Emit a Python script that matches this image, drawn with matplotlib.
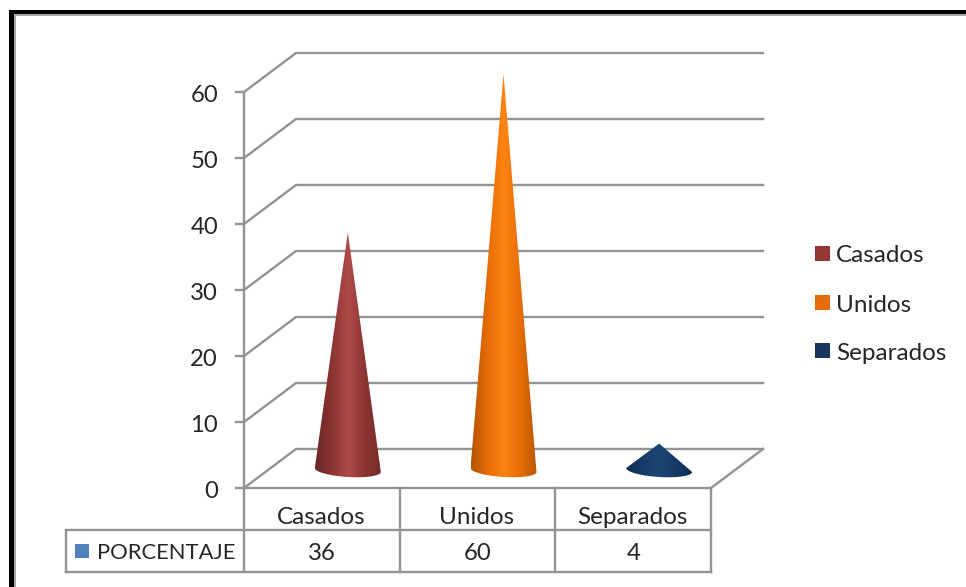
import matplotlib
matplotlib.use("Agg")
import matplotlib.pyplot as plt
import numpy as np
from matplotlib.colors import LinearSegmentedColormap
from matplotlib.patches import Rectangle
from matplotlib.path import Path
from matplotlib.patches import PathPatch

plt.rcParams['font.family'] = ['Lato', 'DejaVu Sans']

categories = ["Casados", "Unidos", "Separados"]
values = [36, 60, 4]
series_name = "PORCENTAJE"
y_ticks = [0, 10, 20, 30, 40, 50, 60]
cone_shades = [
    ["#6a2725", "#8a3432", "#b04c4a", "#8a3432", "#742b29"],
    ["#b55300", "#e56e08", "#ff8412", "#e56e08", "#bb5600"],
    ["#0f2d52", "#163a66", "#1d4674", "#163a66", "#0f2d52"],
]
legend_colors = ["#953735", "#e46c0a", "#17375e"]
key_color = "#4f81bd"

W, H = 966, 587
GRID = "#939393"
TEXT = "#262626"
FS = 17.5
FS_TICK = 17.2
FS_SERIES = 15.8

fig = plt.figure(figsize=(W / 100, H / 100), dpi=100, facecolor="white")

# Plot axes spans the front face of the 3-D box: categories across, values up.
left, right, bottom, top = 244, 711, 488, 92
ax = fig.add_axes([left / W, 1 - bottom / H, (right - left) / W, (bottom - top) / H])
ax.set_xlim(0, len(categories))
ax.set_ylim(0, 60)
ax.axis("off")

# Depth of the box expressed in data units.
px_x = (right - left) / len(categories)
px_y = (bottom - top) / 60
dx, dy = 52 / px_x, 39 / px_y
n = len(categories)

line = dict(color=GRID, lw=1.7, clip_on=False, solid_capstyle="projecting", zorder=1)

for t in y_ticks:
    ax.plot([0, dx, n + dx], [t, t + dy, t + dy], **line)
    ax.plot([-8 / px_x, 0], [t, t], **line)
    ax.text(-26 / px_x, t - 3 / px_y, str(t), ha="right", va="center", fontsize=FS_TICK, color=TEXT)
ax.plot([0, 0], [0, 60], **line)
ax.plot([n + dx, n, 0], [dy, 0, 0], **line)

# Data table hanging under the category axis.
row1, row2 = -42 / px_y, -84 / px_y
key_left = -178 / px_x
for i in range(n + 1):
    ax.plot([i, i], [0, row2], **line)
ax.plot([key_left, n], [row1, row1], **line)
ax.plot([key_left, n], [row2, row2], **line)
ax.plot([key_left, key_left], [row1, row2], **line)
for i, (name, v) in enumerate(zip(categories, values)):
    ax.text(i + 0.5 - 1 / px_x, row1 / 2 - 8 / px_y, name, ha="center", va="center",
            fontsize=FS, color=TEXT)
    ax.text(i + 0.5, (row1 + row2) / 2 - 2 / px_y, str(v), ha="center", va="center",
            fontsize=FS_TICK, color=TEXT)
ax.add_patch(Rectangle((-169 / px_x, (row1 + row2) / 2 - 7 / px_y), 14 / px_x, 14 / px_y,
                       fc=key_color, ec="none", clip_on=False))
ax.text(-147 / px_x, (row1 + row2) / 2 - 2 / px_y, series_name, ha="left", va="center",
        fontsize=FS_SERIES, color=TEXT)

# Cones with a horizontal shading gradient clipped to the silhouette.
half_w = 33 / px_x
ry = 7 / px_y
base = 18 / px_y
tilt = 2 / px_y
for i, (v, shades) in enumerate(zip(values, cone_shades)):
    cx = i + 0.5 + dx / 2
    theta = np.linspace(np.pi, 2 * np.pi, 40)
    arc = np.column_stack([cx + half_w * np.cos(theta),
                           base + ry * np.sin(theta) + tilt * np.cos(theta) * -1])
    verts = np.vstack([arc, [[cx, base + v]], arc[:1]])
    codes = [Path.MOVETO] + [Path.LINETO] * (len(verts) - 2) + [Path.CLOSEPOLY]
    clip = PathPatch(Path(verts, codes), transform=ax.transData, fc="none", ec="none")
    clip.set_clip_on(False)
    ax.add_patch(clip)
    cmap = LinearSegmentedColormap.from_list("cone", shades)
    im = ax.imshow(np.linspace(0, 1, 128)[None, :], cmap=cmap, aspect="auto", zorder=3,
                   extent=(cx - half_w, cx + half_w, base - ry - tilt, base + v),
                   interpolation="bilinear")
    im.set_clip_box(fig.bbox)
    im.set_clip_path(clip)
ax.set_xlim(0, n)
ax.set_ylim(0, 60)

# Legend entries placed in figure pixels to the right of the box.
for name, color, y in zip(categories, legend_colors, [254, 303, 351]):
    fig.patches.append(Rectangle((815 / W, 1 - (y + 7) / H), 15 / W, 15 / H, fc=color, ec="none",
                                 transform=fig.transFigure))
    fig.text(836 / W, 1 - (y + 2) / H, name, ha="left", va="center", fontsize=FS, color=TEXT)

# Heavy frame around the top and left edges.
for (x0, y0, w, h), c in [((9, 10, W - 9, 4), "black"), ((9, 10, 5, H - 10), "black"),
                          ((14, 14, W - 14, 2), "#a6a6a6"), ((14, 14, 2, H - 14), "#a6a6a6")]:
    fig.patches.append(Rectangle((x0 / W, 1 - (y0 + h) / H), w / W, h / H, fc=c, ec="none",
                                 transform=fig.transFigure))

fig.savefig("out.png", dpi=100)
